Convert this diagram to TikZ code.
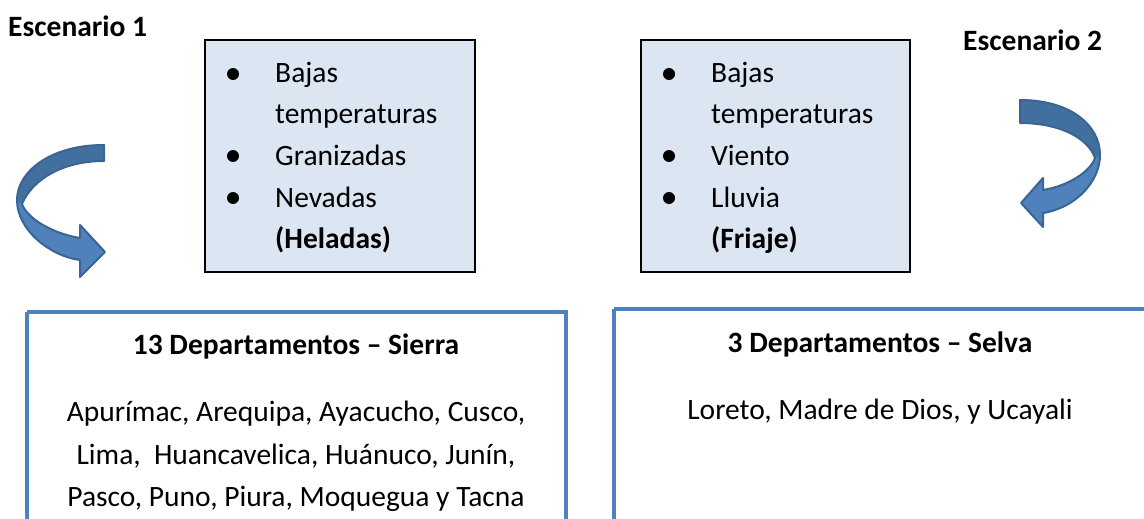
\documentclass[tikz,border=0pt]{standalone}
\usepackage{fontspec}
\setmainfont{Carlito}
\definecolor{boxfill}{HTML}{DCE6F2}
\definecolor{blueline}{HTML}{4F81BD}
\definecolor{arrowlight}{HTML}{4F81BD}
\definecolor{arrowdark}{HTML}{41709F}
\definecolor{arrowline}{HTML}{3A6494}
\begin{document}
\begin{tikzpicture}[x=1pt,y=-1pt,
  txt/.style={font=\fontsize{29.5}{40}\selectfont, inner sep=0pt},
  btxt/.style={font=\fontsize{29.5}{40}\selectfont\bfseries, inner sep=0pt},
  bul/.style={circle, fill=black, inner sep=0pt, minimum size=12pt},
  topbox/.style={draw=black, line width=2pt, fill=boxfill},
  botbox/.style={draw=blueline, line width=4pt},
  arrowpart/.style={draw=arrowline, line width=2pt, line join=round}]
\useasboundingbox (0,0) rectangle (1144,519);

% labels
\node[btxt, anchor=base west] (esc1) at (8,37) {Escenario 1};
\node[btxt, anchor=base west] (esc2) at (963,51) {Escenario 2};

% top boxes
\draw[topbox] (205,40) rectangle (475,272);
\node[inner sep=0pt] (box1) at (340,156) {};
\draw[topbox] (641,40) rectangle (910,272);
\node[inner sep=0pt] (box2) at (775,156) {};

% left list
\node[bul] (b11) at (233,74) {};
\node[bul] (b12) at (233,156) {};
\node[bul] (b13) at (233,198) {};
\node[txt, anchor=base west] (t11) at (275,83) {Bajas};
\node[txt, anchor=base west] (t12) at (275,123) {temperaturas};
\node[txt, anchor=base west] (t13) at (275,165) {Granizadas};
\node[txt, anchor=base west] (t14) at (275,207) {Nevadas};
\node[btxt, anchor=base west] (t15) at (275,248) {(Heladas)};

% right list
\node[bul] (b21) at (669,74) {};
\node[bul] (b22) at (669,156) {};
\node[bul] (b23) at (669,198) {};
\node[txt, anchor=base west] (t21) at (711,83) {Bajas};
\node[txt, anchor=base west] (t22) at (711,123) {temperaturas};
\node[txt, anchor=base west] (t23) at (711,165) {Viento};
\node[txt, anchor=base west] (t24) at (711,207) {Lluvia};
\node[btxt, anchor=base west] (t25) at (711,248) {(Friaje)};

% bottom boxes
\draw[botbox] (27,312) -- (27,530) (27,312) -- (566,312) -- (566,530);
\draw[botbox] (614,309) -- (614,530) (614,309) -- (1150,309);

\node[btxt, anchor=base] (s1) at (296,354) {13 Departamentos – Sierra};
\node[txt, anchor=base] (s2) at (296,421) {Apurímac, Arequipa, Ayacucho, Cusco,};
\node[txt, anchor=base] (s3) at (296,464) {Lima,\ \ Huancavelica, Huánuco, Junín,};
\node[txt, anchor=base] (s4) at (296,506) {Pasco, Puno, Piura, Moquegua y Tacna};

\node[btxt, anchor=base] (r1) at (880,352) {3 Departamentos – Selva};
\node[txt, anchor=base] (r2) at (880,419) {Loreto, Madre de Dios, y Ucayali};

% left curved arrow
\fill[arrowlight] (104,145) .. controls (50,145) and (17,172) .. (17,200)
  .. controls (17,230) and (50,256) .. (80,260) -- (80,277) -- (105,252)
  -- (80,225) -- (80,238) .. controls (55,234) and (28,220) .. (22,204)
  .. controls (32,180) and (62,161) .. (104,161) -- cycle;
\fill[arrowdark] (104,145) .. controls (50,145) and (17,172) .. (17,200)
  -- (22,204) .. controls (32,180) and (62,161) .. (104,161) -- cycle;
\draw[arrowpart] (104,145) .. controls (50,145) and (17,172) .. (17,200)
  .. controls (17,230) and (50,256) .. (80,260) -- (80,277) -- (105,252)
  -- (80,225) -- (80,238) .. controls (55,234) and (28,220) .. (22,204)
  .. controls (32,180) and (62,161) .. (104,161) -- cycle;

% right curved arrow
\fill[arrowlight] (1020,100) .. controls (1070,100) and (1100,125) .. (1100,155)
  .. controls (1100,182) and (1075,208) .. (1043,213) -- (1043,227) -- (1021,203)
  -- (1043,178) -- (1043,190) .. controls (1068,186) and (1090,172) .. (1095,158)
  .. controls (1088,138) and (1060,123) .. (1020,123) -- cycle;
\fill[arrowdark] (1020,100) .. controls (1070,100) and (1100,125) .. (1100,155)
  -- (1095,158) .. controls (1088,138) and (1060,123) .. (1020,123) -- cycle;
\draw[arrowpart] (1020,100) .. controls (1070,100) and (1100,125) .. (1100,155)
  .. controls (1100,182) and (1075,208) .. (1043,213) -- (1043,227) -- (1021,203)
  -- (1043,178) -- (1043,190) .. controls (1068,186) and (1090,172) .. (1095,158)
  .. controls (1088,138) and (1060,123) .. (1020,123) -- cycle;
\end{tikzpicture}
\end{document}
